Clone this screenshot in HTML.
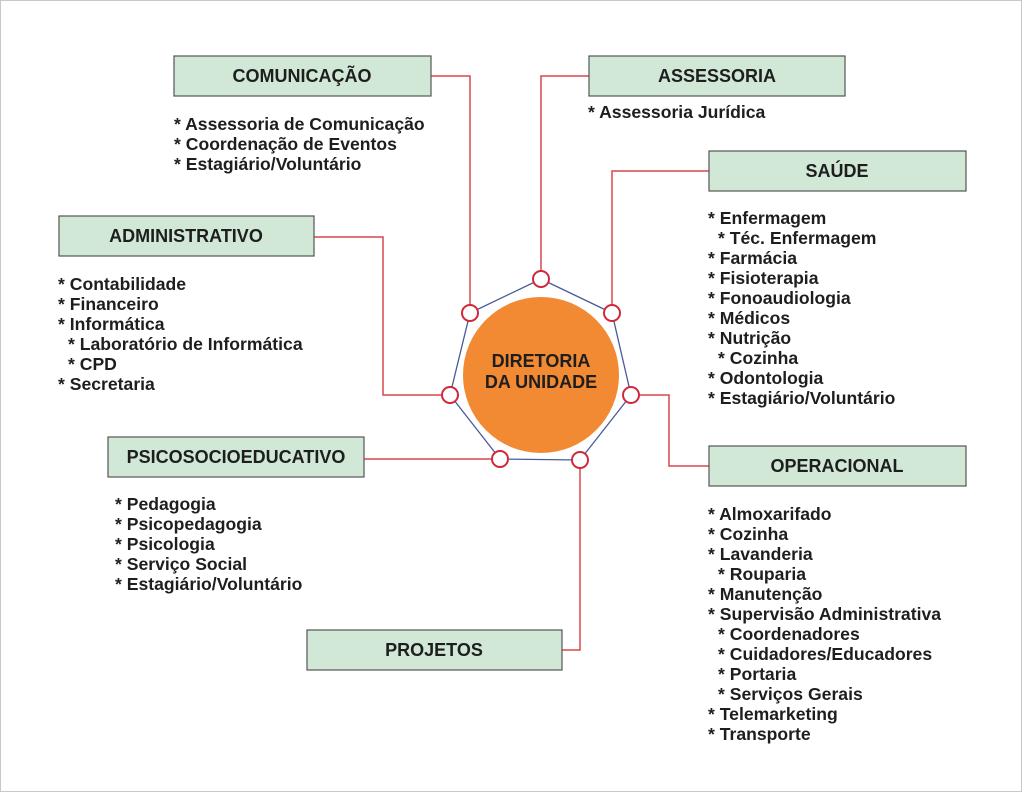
<!DOCTYPE html>
<html><head><meta charset="utf-8"><style>
html,body{margin:0;padding:0;background:#fff;}
svg{display:block;}
text{font-family:"Liberation Sans",Arial,sans-serif;font-weight:bold;fill:#1e1e1e;}
.l{font-size:17.6px;}
.h{font-size:18px;text-anchor:middle;}
rect.b{fill:#d0e8d5;stroke:#555;stroke-width:1.2;}
.c{fill:none;stroke:#d9464f;stroke-width:1.5;}
.n{fill:#fff;stroke:#d0283a;stroke-width:2;}
</style></head><body>
<svg width="1024" height="793" viewBox="0 0 1024 793">
<rect x="0.5" y="0.5" width="1021" height="791" fill="#fff" stroke="#c8c8c8"/>
<polyline class="c" points="431,76 470,76 470,313"/>
<polyline class="c" points="589,76 541,76 541,279"/>
<polyline class="c" points="709,171 612,171 612,313"/>
<polyline class="c" points="314,237 383,237 383,395 450,395"/>
<polyline class="c" points="631,395 669,395 669,466 709,466"/>
<polyline class="c" points="364,459 500,459"/>
<polyline class="c" points="562,650 580,650 580,460"/>
<polygon points="541,279 612,313 631,395 580,460 500,459 450,395 470,313" fill="none" stroke="#4a5a9a" stroke-width="1.3"/>
<circle cx="541" cy="375" r="78" fill="#f28a33"/>
<text class="h" x="541" y="367" style="font-size:18px">DIRETORIA</text>
<text class="h" x="541" y="388" style="font-size:18px">DA UNIDADE</text>
<circle class="n" cx="541" cy="279" r="8"/>
<circle class="n" cx="612" cy="313" r="8"/>
<circle class="n" cx="631" cy="395" r="8"/>
<circle class="n" cx="580" cy="460" r="8"/>
<circle class="n" cx="500" cy="459" r="8"/>
<circle class="n" cx="450" cy="395" r="8"/>
<circle class="n" cx="470" cy="313" r="8"/>
<rect class="b" x="174" y="56" width="257" height="40"/><text class="h" x="302" y="82">COMUNICAÇÃO</text>
<rect class="b" x="589" y="56" width="256" height="40"/><text class="h" x="717" y="82">ASSESSORIA</text>
<rect class="b" x="709" y="151" width="257" height="40"/><text class="h" x="837" y="177">SAÚDE</text>
<rect class="b" x="59" y="216" width="255" height="40"/><text class="h" x="186" y="242">ADMINISTRATIVO</text>
<rect class="b" x="709" y="446" width="257" height="40"/><text class="h" x="837" y="472">OPERACIONAL</text>
<rect class="b" x="108" y="437" width="256" height="40"/><text class="h" x="236" y="463">PSICOSOCIOEDUCATIVO</text>
<rect class="b" x="307" y="630" width="255" height="40"/><text class="h" x="434" y="656">PROJETOS</text>
<text class="l" x="174" y="130">* Assessoria de Comunicação</text>
<text class="l" x="174" y="150">* Coordenação de Eventos</text>
<text class="l" x="174" y="170">* Estagiário/Voluntário</text>
<text class="l" x="588" y="118">* Assessoria Jurídica</text>
<text class="l" x="708" y="224">* Enfermagem</text>
<text class="l" x="718" y="244">* Téc. Enfermagem</text>
<text class="l" x="708" y="264">* Farmácia</text>
<text class="l" x="708" y="284">* Fisioterapia</text>
<text class="l" x="708" y="304">* Fonoaudiologia</text>
<text class="l" x="708" y="324">* Médicos</text>
<text class="l" x="708" y="344">* Nutrição</text>
<text class="l" x="718" y="364">* Cozinha</text>
<text class="l" x="708" y="384">* Odontologia</text>
<text class="l" x="708" y="404">* Estagiário/Voluntário</text>
<text class="l" x="58" y="290">* Contabilidade</text>
<text class="l" x="58" y="310">* Financeiro</text>
<text class="l" x="58" y="330">* Informática</text>
<text class="l" x="68" y="350">* Laboratório de Informática</text>
<text class="l" x="68" y="370">* CPD</text>
<text class="l" x="58" y="390">* Secretaria</text>
<text class="l" x="115" y="510">* Pedagogia</text>
<text class="l" x="115" y="530">* Psicopedagogia</text>
<text class="l" x="115" y="550">* Psicologia</text>
<text class="l" x="115" y="570">* Serviço Social</text>
<text class="l" x="115" y="590">* Estagiário/Voluntário</text>
<text class="l" x="708" y="520">* Almoxarifado</text>
<text class="l" x="708" y="540">* Cozinha</text>
<text class="l" x="708" y="560">* Lavanderia</text>
<text class="l" x="718" y="580">* Rouparia</text>
<text class="l" x="708" y="600">* Manutenção</text>
<text class="l" x="708" y="620">* Supervisão Administrativa</text>
<text class="l" x="718" y="640">* Coordenadores</text>
<text class="l" x="718" y="660">* Cuidadores/Educadores</text>
<text class="l" x="718" y="680">* Portaria</text>
<text class="l" x="718" y="700">* Serviços Gerais</text>
<text class="l" x="708" y="720">* Telemarketing</text>
<text class="l" x="708" y="740">* Transporte</text>
</svg>
</body></html>
